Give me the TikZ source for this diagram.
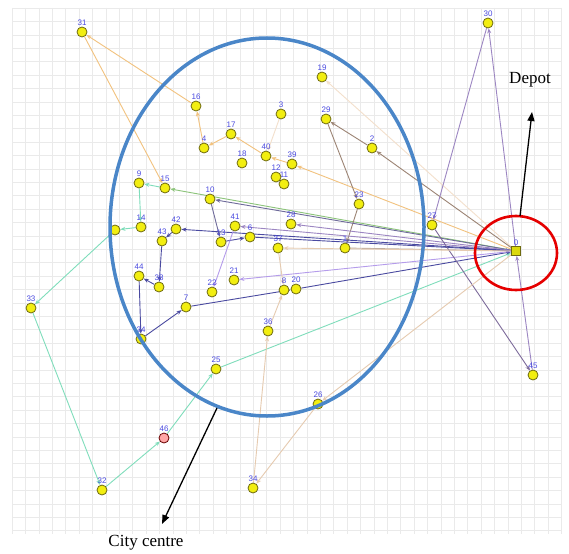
\documentclass[tikz,border=0pt]{standalone}
\usepackage{fontspec}
\setmainfont{Liberation Serif}
\newfontfamily\lblfont{Liberation Sans}
\usetikzlibrary{arrows.meta}
\pgfdeclarelayer{gridl}
\pgfdeclarelayer{edges}
\pgfdeclarelayer{fg}
\pgfsetlayers{gridl,edges,main,fg}
\definecolor{gridc}{HTML}{EAEAEA}
\definecolor{lblc}{HTML}{4A4AE0}
\definecolor{nodefill}{HTML}{F2EE10}
\definecolor{nodedraw}{HTML}{6E6A10}
\definecolor{ora}{HTML}{F2C27E}
\definecolor{pale}{HTML}{F3E0CC}
\definecolor{teal2}{HTML}{7FDDBB}
\definecolor{olivg}{HTML}{8CC47A}
\definecolor{brn}{HTML}{9C8474}
\definecolor{slate}{HTML}{6E6A9A}
\definecolor{navy2}{HTML}{4A4AA0}
\definecolor{lav}{HTML}{B59CEB}
\definecolor{purp}{HTML}{9C86C2}
\definecolor{peach}{HTML}{E6CBB0}
\definecolor{bigblue}{HTML}{4A86C8}
\newcommand\cnode[3]{\node[cust,label={[lbl]above:#1}] (n#1) at (#2,#3) {};}
\begin{document}
\begin{tikzpicture}[x=1pt,y=-1pt,
  cust/.style={circle,draw=nodedraw,fill=nodefill,line width=0.8pt,minimum size=10pt,inner sep=0pt},
  lbl/.style={text=lblc,font=\lblfont\fontsize{8}{9}\selectfont,inner sep=0.5pt},
  edge/.style={line width=0.9pt,-{Stealth[length=5pt,width=4pt]}},
  callout/.style={line width=1.3pt,-{Triangle[length=9pt,width=7pt]}},
  big/.style={font=\fontsize{17}{20}\selectfont}]
\useasboundingbox (0,0) rectangle (569,553);
\begin{pgfonlayer}{gridl}
\fill[white] (0,0) rectangle (569,553);
\foreach \i in {0,...,41} {\draw[gridc,line width=0.5pt] ({12+13.4*\i},8) -- ({12+13.4*\i},534);}
\foreach \j in {0,...,39} {\draw[gridc,line width=0.5pt] (12,{8+13.4*\j}) -- (561,{8+13.4*\j});}
\end{pgfonlayer}
% nodes
\node[rectangle,draw=nodedraw,fill=nodefill!80!olive,line width=0.8pt,minimum size=9pt,inner sep=0pt,label={[lbl]above:0}] (n0) at (516,251) {};
\cnode{1}{345}{248}
\cnode{2}{372}{148}
\cnode{3}{281}{114}
\cnode{4}{204}{148}
\cnode{6}{250}{237}
\cnode{7}{186}{307}
\cnode{8}{284}{290}
\cnode{9}{139}{183}
\cnode{10}{210}{199}
\cnode{11}{284}{184}
\cnode{12}{276}{177}
\cnode{13}{221}{242}
\cnode{14}{141}{227}
\cnode{15}{165}{188}
\cnode{16}{196}{106}
\cnode{17}{231}{134}
\cnode{18}{242}{163}
\cnode{19}{322}{77}
\cnode{20}{296}{289}
\cnode{21}{234}{280}
\cnode{22}{212}{292}
\cnode{23}{359}{204}
\cnode{24}{141}{339}
\cnode{25}{216}{369}
\cnode{26}{318}{404}
\cnode{27}{432}{225}
\cnode{28}{291}{224}
\cnode{29}{326}{119}
\cnode{30}{488}{23}
\cnode{31}{82}{32}
\cnode{32}{102}{490}
\cnode{33}{31}{308}
\cnode{34}{253}{488}
\cnode{45}{533}{375}
\cnode{36}{268}{331}
\cnode{37}{278}{248}
\cnode{38}{159}{287}
\cnode{39}{292}{164}
\cnode{40}{266}{156}
\cnode{41}{235}{226}
\cnode{42}{176}{229}
\cnode{43}{162}{241}
\cnode{44}{139}{276}
\node[cust,fill=red!35!white,draw=red!40!black,label={[lbl]above:46}] (n46) at (164,438) {};
\node[cust] (n47) at (115,230) {};
% edges
\begin{pgfonlayer}{edges}
\draw[edge,pale] (n0) -- (n19);
\draw[edge,pale] (n3) -- (n40);
\draw[edge,ora] (n0) -- (n39);
\draw[edge,ora] (n39) -- (n40);
\draw[edge,ora] (n40) -- (n17);
\draw[edge,ora] (n17) -- (n4);
\draw[edge,ora] (n4) -- (n16);
\draw[edge,ora] (n16) -- (n31);
\draw[edge,ora] (n31) -- (n15);
\draw[edge,olivg] (n0) -- (n15);
\draw[edge,teal2] (n15) -- (n9);
\draw[edge,teal2] (n9) -- (n14);
\draw[edge,teal2] (n14) -- (n47);
\draw[edge,teal2] (n47) -- (n33);
\draw[edge,teal2] (n33) -- (n32);
\draw[edge,teal2] (n32) -- (n46);
\draw[edge,teal2] (n46) -- (n25);
\draw[edge,teal2] (n25) -- (n0);
\draw[edge,brn] (n0) -- (n2);
\draw[edge,brn] (n2) -- (n29);
\draw[edge,brn] (n29) -- (n23);
\draw[edge,brn] (n23) -- (n1);
\draw[edge,brn!70!white] (n1) -- (n0);
\draw[edge,slate] (n0) -- (n10);
\draw[edge,slate] (n10) -- (n13);
\draw[edge,navy2] (n13) -- (n6);
\draw[edge,navy2] (n6) -- (n0);
\draw[edge,purp] (n0) -- (n28);
\draw[edge,purp] (n0) -- (n41);
\draw[edge,navy2] (n0) -- (n42);
\draw[edge,navy2] (n42) -- (n43);
\draw[edge,navy2] (n43) -- (n38);
\draw[edge,navy2] (n38) -- (n44);
\draw[edge,navy2] (n44) -- (n24);
\draw[edge,navy2] (n24) -- (n7);
\draw[edge,navy2] (n7) -- (n20);
\draw[edge,navy2] (n20) -- (n0);
\draw[edge,lav] (n0) -- (n21);
\draw[edge,lav] (n41) -- (n22);
\draw[edge,purp] (n0) -- (n30);
\draw[edge,purp] (n30) -- (n27);
\draw[edge,purp!80!black] (n27) -- (n45);
\draw[edge,purp] (n45) -- (n0);
\draw[edge,peach] (n0) -- (n26);
\draw[edge,peach] (n26) -- (n34);
\draw[edge,peach] (n34) -- (n36);
\draw[edge,peach] (n36) -- (n8);
\draw[edge,peach] (n0) -- (n37);
\draw[edge,peach] (n37) -- (n8);
\draw[line width=0.8pt,slate] (n12) -- (n11);
\end{pgfonlayer}
% overlays
\begin{pgfonlayer}{fg}
\draw[bigblue,line width=3.5pt] (267,227) ellipse [x radius=157, y radius=189];
\draw[red!90!black,line width=2.6pt] (516,253) ellipse [x radius=41, y radius=37];
\coordinate (depfoot) at (520,216);
\coordinate (deptip) at (532,112);
\node[big] (deplbl) at (530,80) {Depot};
\draw[callout] (depfoot) -- (deptip);
\coordinate (ccfoot) at (217,408);
\coordinate (cctip) at (162,524);
\node[big] (cclbl) at (146,543) {City centre};
\draw[callout] (ccfoot) -- (cctip);
\end{pgfonlayer}
\end{tikzpicture}
\end{document}
